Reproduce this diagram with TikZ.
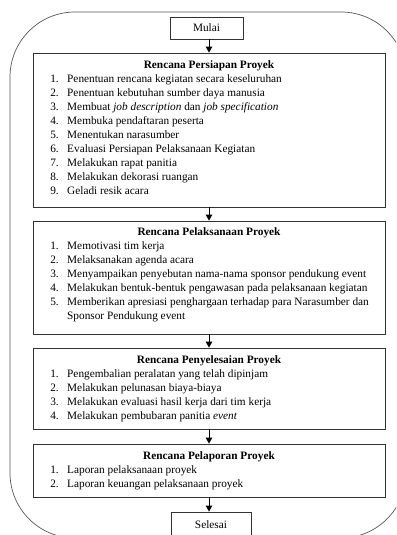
\documentclass[tikz,border=0pt]{standalone}
\usepackage{fontspec}
\setmainfont{Liberation Serif}
\usetikzlibrary{arrows.meta}
\begin{document}
\begin{tikzpicture}[x=1pt,y=-1pt,
  outer/.style={draw=black!65, line width=0.7pt, rounded corners=65pt},
  box/.style={draw=black!80, line width=0.8pt, inner sep=0pt},
  ttl/.style={font=\fontsize{11.3}{13}\selectfont\bfseries, inner sep=0pt, text height=8pt, text depth=2.5pt},
  num/.style={font=\fontsize{11.3}{13}\selectfont, inner sep=0pt, anchor=east, text height=8pt, text depth=2.5pt},
  itm/.style={font=\fontsize{11.3}{13}\selectfont, inner sep=0pt, anchor=west, text height=8pt, text depth=2.5pt},
  arr/.style={line width=1pt, -{Triangle[length=6pt,width=6.5pt]}}]
\useasboundingbox (0,0) rectangle (396,535);
\clip (0,0) rectangle (396,535);
\fill[white] (0,0) rectangle (396,535);
\draw[outer] (10,12) rectangle (406,538);

% boxes
\node[box, minimum width=73pt, minimum height=22pt, font=\fontsize{11.3}{13}\selectfont] (mulai) at (206.5,28) {Mulai};
\node[box, minimum width=352pt, minimum height=154pt] (b1) at (209,130) {};
\node[box, minimum width=352pt, minimum height=113pt] (b2) at (209,277.5) {};
\node[box, minimum width=352pt, minimum height=81pt] (b3) at (209,388.5) {};
\node[box, minimum width=352pt, minimum height=53pt] (b4) at (209,470.5) {};
\node[box, minimum width=80pt, minimum height=26pt, font=\fontsize{11.3}{13}\selectfont] (selesai) at (211,525) {Selesai};

% arrows
\draw[arr] (mulai.south -| b1.north) -- (b1.north);
\draw[arr] (b1.south) -- (b2.north);
\draw[arr] (b2.south) -- (b3.north);
\draw[arr] (b3.south) -- (b4.north);
\draw[arr] (b4.south) -- (b4.south |- selesai.north);

% box 1
\node[ttl] (t1) at (209,66) {Rencana Persiapan Proyek};
\foreach \k/\t in {1/Penentuan rencana kegiatan secara keseluruhan,
  2/Penentuan kebutuhan sumber daya manusia,
  3/{Membuat \textit{job description} dan \textit{job specification}},
  4/Membuka pendaftaran peserta,
  5/Menentukan narasumber,
  6/Evaluasi Persiapan Pelaksanaan Kegiatan,
  7/Melakukan rapat panitia,
  8/Melakukan dekorasi ruangan,
  9/Geladi resik acara}{
  \node[num] (a\k) at (59,{80+14*(\k-1)}) {\k.};
  \node[itm] (p\k) at (67,{80+14*(\k-1)}) {\t};
}

% box 2
\node[ttl] (t2) at (209,233) {Rencana Pelaksanaan Proyek};
\foreach \k/\t in {1/Memotivasi tim kerja,
  2/Melaksanakan agenda acara,
  3/Menyampaikan penyebutan nama-nama sponsor pendukung event,
  4/Melakukan bentuk-bentuk pengawasan pada pelaksanaan kegiatan,
  5/Memberikan apresiasi penghargaan terhadap para Narasumber dan}{
  \node[num] (c\k) at (59,{247+14*(\k-1)}) {\k.};
  \node[itm] (q\k) at (67,{247+14*(\k-1)}) {\t};
}
\node[itm] (q6) at (67,317) {Sponsor Pendukung event};

% box 3
\node[ttl] (t3) at (209,361) {Rencana Penyelesaian Proyek};
\foreach \k/\t in {1/Pengembalian peralatan yang telah dipinjam,
  2/Melakukan pelunasan biaya-biaya,
  3/Melakukan evaluasi hasil kerja dari tim kerja,
  4/{Melakukan pembubaran panitia \textit{event}}}{
  \node[num] (e\k) at (59,{375+14*(\k-1)}) {\k.};
  \node[itm] (r\k) at (67,{375+14*(\k-1)}) {\t};
}

% box 4
\node[ttl] (t4) at (209,457) {Rencana Pelaporan Proyek};
\foreach \k/\t in {1/Laporan pelaksanaan proyek,
  2/Laporan keuangan pelaksanaan proyek}{
  \node[num] (g\k) at (59,{471+14*(\k-1)}) {\k.};
  \node[itm] (s\k) at (67,{471+14*(\k-1)}) {\t};
}
\end{tikzpicture}
\end{document}
